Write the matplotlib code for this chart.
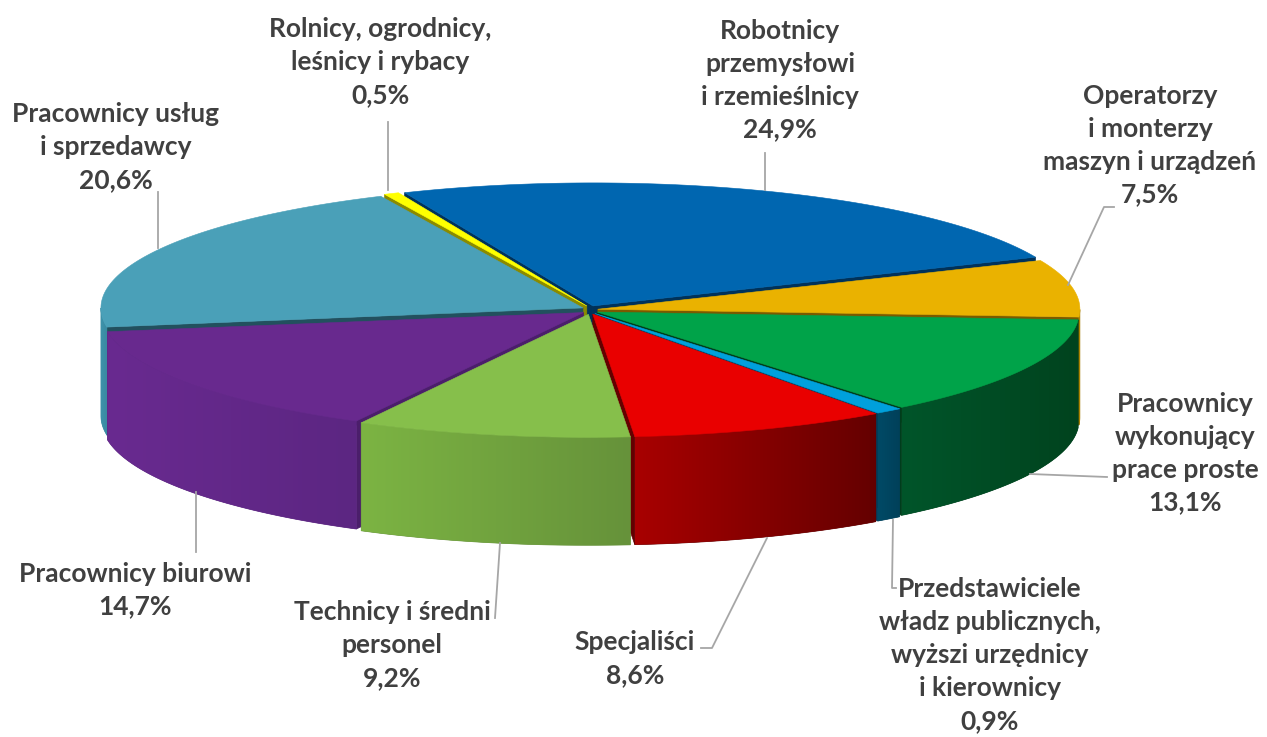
import numpy as np
import matplotlib
matplotlib.use("Agg")
import matplotlib.pyplot as plt
from matplotlib.patches import Polygon
from matplotlib.colors import LinearSegmentedColormap

# shares of employed persons by occupation group (%), clockwise from the top
categories = [
    "Robotnicy\nprzemysłowi\ni rzemieślnicy",
    "Operatorzy\ni monterzy\nmaszyn i urządzeń",
    "Pracownicy\nwykonujący\nprace proste",
    "Przedstawiciele\nwładz publicznych,\nwyższi urzędnicy\ni kierownicy",
    "Specjaliści",
    "Technicy i średni\npersonel",
    "Pracownicy biurowi",
    "Pracownicy usług\ni sprzedawcy",
    "Rolnicy, ogrodnicy,\nleśnicy i rybacy",
]
shares = [24.9, 7.5, 13.1, 0.9, 8.6, 9.2, 14.7, 20.6, 0.5]

top_colors = ["#0066B0", "#EAB200", "#00A349", "#00A0DC", "#E90000",
              "#86BF4B", "#68298E", "#4AA0B8", "#FFFF00"]
wall_colors = [("#004F8A", "#003D6B"), ("#C89800", "#A07800"), ("#00552A", "#00431E"),
               ("#004A66", "#00405A"), ("#A80000", "#640000"), ("#7CB443", "#66923A"),
               ("#692A90", "#5C2682"), ("#3E92AA", "#3A8BA2"), ("#B5B500", "#9A9A00")]
cut_colors = ["#00325A", "#7A5A00", "#003D1C", "#004060", "#640000",
              "#5E8A33", "#4B1E6B", "#22505E", "#8A8A00"]

# label anchor (text centre) and leader line for each slice
label_xy = [(780, 80), (1150, 145), (1185, 453), (990, 655), (635, 659),
            (392, 645), (135, 590), (116, 147), (380, 62)]
leaders = [
    [(765, 153), (765, 190)],
    [(1068, 285), (1104, 207), (1114, 207)],
    [(1030, 474), (1107, 477)],
    [(893, 520), (892, 588), (896, 588)],
    [(767, 538), (712, 648), (701, 648)],
    [(500, 543), (495, 618)],
    [(196, 492), (196, 552)],
    [(158, 192), (158, 248)],
    [(388, 122), (388, 190)],
]

W, H = 1267, 737
fig = plt.figure(figsize=(W / 100, H / 100), dpi=100)
ax = fig.add_axes([0, 0, 1, 1])

cx, cy, rx, ry, depth = 590, 310, 482, 123, 108
start = 113.0
explode = 8.0


def pt(t, ox, oy, z=0.0):
    r = np.radians(t)
    return (cx + ox + rx * np.cos(r), cy + oy - ry * np.sin(r) + z)


# angular ranges (degrees, clockwise)
bounds = start - 3.6 * np.concatenate([[0], np.cumsum(shares)])
slices = []
for i in range(len(shares)):
    t1, t2 = bounds[i], bounds[i + 1]  # t1 > t2
    m = np.radians((t1 + t2) / 2)
    ox, oy = explode * np.cos(m), -explode * 0.55 * np.sin(m)
    slices.append((i, t1, t2, ox, oy, np.sin(m)))

# back slices first
for i, t1, t2, ox, oy, s in sorted(slices, key=lambda q: -q[5]):
    apex = (cx + ox, cy + oy)
    apex_b = (cx + ox, cy + oy + depth)
    # cut faces that look towards the viewer
    for t, nrm in ((t1, t1 + 90), (t2, t2 - 90)):
        if np.sin(np.radians(nrm)) < 0:
            quad = [apex, pt(t, ox, oy), pt(t, ox, oy, depth), apex_b]
            ax.add_patch(Polygon(quad, closed=True, fc=cut_colors[i],
                                 ec=cut_colors[i], lw=0.5, zorder=2))
    # outer wall for the front half, with a left-to-right gradient
    ts = np.linspace(t2, t1, 200)
    vis = ts[np.sin(np.radians(ts)) <= 0.0]
    if len(vis) > 1:
        top = [pt(t, ox, oy) for t in vis]
        bot = [pt(t, ox, oy, depth) for t in vis[::-1]]
        wall = Polygon(top + bot, closed=True, fc=wall_colors[i][1],
                       ec=wall_colors[i][1], lw=0.5, zorder=2)
        ax.add_patch(wall)
        xs = [p[0] for p in top]
        ys = [p[1] for p in top + bot]
        cmap = LinearSegmentedColormap.from_list("w", list(wall_colors[i]))
        grad = np.linspace(0, 1, 256).reshape(1, -1)
        im = ax.imshow(grad, cmap=cmap, aspect="auto", zorder=2.1,
                       extent=(min(xs), max(xs), max(ys), min(ys)),
                       interpolation="bilinear")
        im.set_clip_path(wall)
    # top face
    arc = [pt(t, ox, oy) for t in np.linspace(t1, t2, 120)]
    ax.add_patch(Polygon([apex] + arc, closed=True, fc=top_colors[i],
                         ec=top_colors[i], lw=0.4, zorder=3))

# labels and leader lines
for i, name in enumerate(categories):
    pct = f"{shares[i]:.1f}%".replace(".", ",")
    x, y = label_xy[i]
    ax.text(x, y, name + "\n" + pct, ha="center", va="center",
            fontsize=19, fontweight="bold", family=["Lato", "DejaVu Sans"],
            color="#404040", linespacing=1.45, zorder=5)
    lx, ly = zip(*leaders[i])
    ax.plot(lx, ly, color="#A6A6A6", lw=1.3, zorder=4)

ax.set_xlim(0, W)
ax.set_ylim(H, 0)
ax.axis("off")
fig.savefig("out.png", dpi=100)
